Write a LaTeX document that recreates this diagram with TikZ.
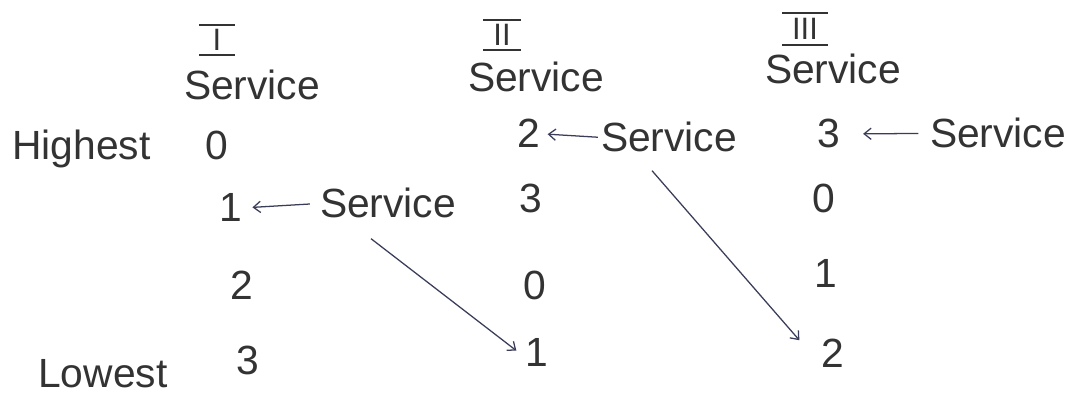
\documentclass[tikz,border=0pt]{standalone}
\usepackage{fontspec}
\setmainfont{Liberation Sans}
\usetikzlibrary{arrows.meta,calc}
\definecolor{ink}{HTML}{333333}
\definecolor{pen}{HTML}{3A3D58}
\begin{document}
\begin{tikzpicture}[x=0.025cm,y=-0.025cm,
  txt/.style={font=\fontsize{29}{31}\selectfont, text=ink, inner sep=0pt, anchor=base},
  num/.style={txt},
  rom/.style={font=\fontsize{22}{24}\selectfont, text=ink, inner sep=0pt, anchor=base},
  bar/.style={draw=ink, line width=1.5pt},
  lab/.style={txt, anchor=base west},
  pt/.style={draw=pen, line width=0.9pt, -{Straight Barb[length=5pt,width=8pt]}},
]
\useasboundingbox (0,0) rectangle (1081,398);
\fill[white] (0,0) rectangle (1081,398);
% column headers
\node[rom] (r1) at (217,51) {I};
\node[rom] (r2) at (502,46) {II};
\node[rom] (r3) at (805,40) {III};
\draw[bar] ($(r1.base)+(-18,-26)$) -- ($(r1.base)+(18,-26)$);
\draw[bar] ($(r1.base)+(-18,4)$) -- ($(r1.base)+(18,4)$);
\draw[bar] ($(r2.base)+(-19,-26)$) -- ($(r2.base)+(19,-26)$);
\draw[bar] ($(r2.base)+(-19,4)$) -- ($(r2.base)+(19,4)$);
\draw[bar] ($(r3.base)+(-23,-27)$) -- ($(r3.base)+(23,-27)$);
\draw[bar] ($(r3.base)+(-23,5)$) -- ($(r3.base)+(23,5)$);
\node[txt] (h1) at (252,100) {Service};
\node[txt] (h2) at (536,92) {Service};
\node[txt] (h3) at (833,84) {Service};
% side labels
\node[lab] (hi) at (12,160) {Highest};
\node[lab] (lo) at (38,388) {Lowest};
% column I
\node[num] (c1r1) at (217,160) {0};
\node[num] (c1r2) at (231,222) {1};
\node[num] (c1r3) at (242,300) {2};
\node[num] (c1r4) at (248,375) {3};
% column II
\node[num] (c2r1) at (529,148) {2};
\node[num] (c2r2) at (531,213) {3};
\node[num] (c2r3) at (535,300) {0};
\node[num] (c2r4) at (537,367) {1};
% column III
\node[num] (c3r1) at (829,148) {3};
\node[num] (c3r2) at (824,213) {0};
\node[num] (c3r3) at (826,288) {1};
\node[num] (c3r4) at (833,368) {2};
% service markers
\node[txt] (sv1) at (388,218) {Service};
\node[txt] (sv2) at (669,152) {Service};
\node[txt] (sv3) at (998,148) {Service};
% short arrows
\draw[pt, shorten <=7pt, shorten >=7pt] (sv1.west) -- (c1r2.east);
\draw[pt, shorten <=2pt, shorten >=5pt] (sv2.west) -- (c2r1.east);
\draw[pt, shorten <=8pt, shorten >=16pt] (sv3.west) -- (c3r1.east);
% diagonal arrows
\draw[pt] ([shift={(-17,20)}]sv1.south) -- ([shift={(-9,12)}]c2r4.north west);
\draw[pt] ([shift={(-17,18)}]sv2.south) -- ([shift={(-22,1)}]c3r4.north west);
\end{tikzpicture}
\end{document}
